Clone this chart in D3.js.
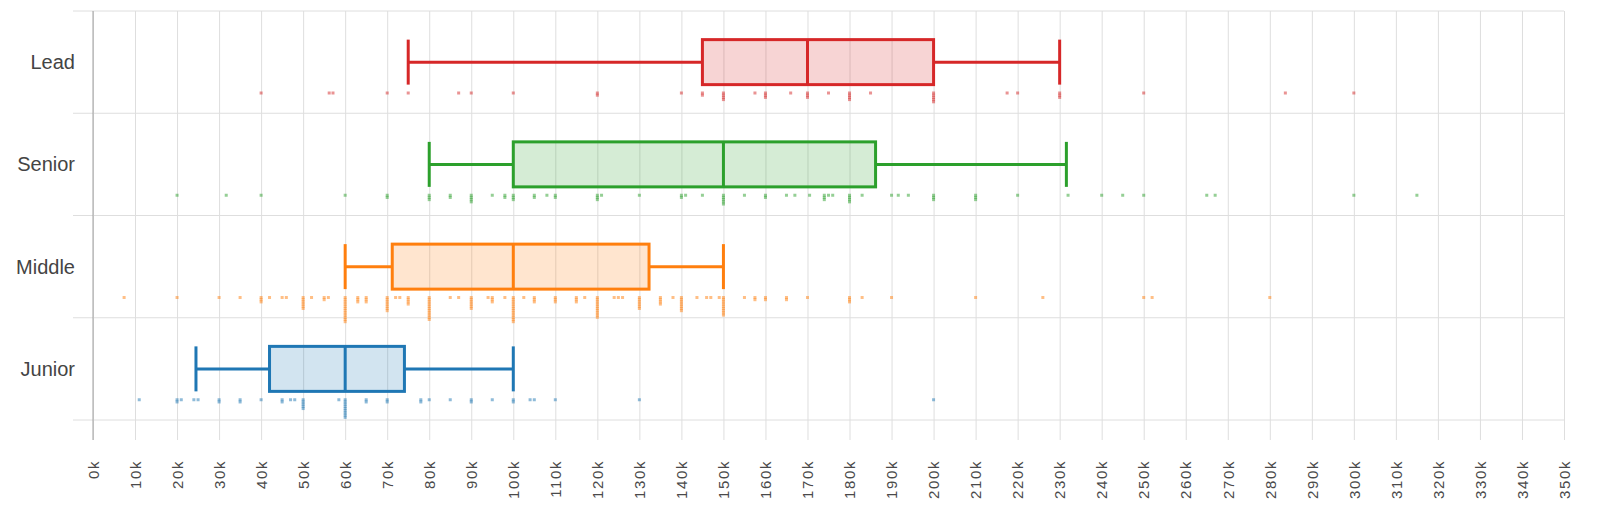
<!DOCTYPE html>
<html>
<head>
<meta charset="utf-8">
<script src="https://cdn.jsdelivr.net/npm/d3@7"></script>
<style>
  html, body { margin: 0; padding: 0; background: #fff; }
  svg { display: block; font-family: "Liberation Sans", Arial, Helvetica, sans-serif; }
</style>
</head>
<body>
<svg id="chart" width="1600" height="525"></svg>
<script>
// ---- data ----
const categories = ["Lead", "Senior", "Middle", "Junior"];
const colors = ["#d62728", "#2ca02c", "#ff7f0e", "#1f77b4"];
const whiskerLow  = [75, 80, 60, 24.5];
const q1          = [145, 100, 71.2, 42];
const median      = [170, 150, 100, 60];
const q3          = [200, 186.2, 132.3, 74.1];
const whiskerHigh = [230, 231.6, 150, 100];

// individual salaries (k) with how many responses share that value
const leadPoints = [[40,1],[56.2,1],[57.1,1],[70,1],[75,1],[87,1],[90,1],[100,1],[120,2],[140,1],[145,2],[150,4],[157.5,1],[160,3],[166,1],[170,3],[175,1],[180,4],[185,1],[200,5],[217.5,1],[220,1],[230,3],[250,1],[283.7,1],[300,1]];
const seniorPoints = [[20,1],[31.7,1],[40,1],[60,1],[70,2],[80,3],[85,2],[90,4],[95,1],[98,2],[100,3],[105,2],[108,1],[110,2],[120,3],[121,1],[130,1],[140,2],[141,1],[145,1],[150,5],[155,1],[160,2],[165,1],[167,1],[170.5,1],[174,3],[175,1],[176,1],[180,4],[183,1],[190,1],[191.6,1],[194,1],[200,3],[210,3],[220,1],[232,1],[240,1],[245,1],[250,1],[265,1],[267,1],[300,1],[315,1]];
const middlePoints = [[7.4,1],[20,1],[30,1],[35,1],[40,3],[42,1],[45,1],[46,1],[50,6],[52,1],[55,2],[56,1],[60,12],[63,3],[65,3],[70,7],[72,1],[73,1],[75,4],[80,11],[85,1],[87,1],[90,6],[94,1],[95,3],[98,1],[100,12],[102.5,1],[105,3],[110,3],[115,3],[117,1],[120,10],[124,1],[125,1],[126,1],[130,6],[135,4],[138,1],[140,7],[143.7,1],[146,1],[147,1],[149,1],[150,9],[155,1],[157.5,2],[160,2],[165,2],[170,1],[180,3],[183,1],[190,1],[210,1],[226,1],[250,1],[252,1],[280,1]];
const juniorPoints = [[11,1],[20,2],[21,1],[24,1],[25,1],[30,2],[35,2],[40,1],[45,2],[47,1],[48,1],[50,5],[58.5,1],[60,9],[65,2],[70,2],[78,2],[80,1],[85,1],[90,2],[95,1],[100,2],[104,1],[105,1],[110,1],[130,1],[200,1]];
const pointsByCategory = [leadPoints, seniorPoints, middlePoints, juniorPoints];

const tickValues = d3.range(0, 351, 10);
const tickLabels = tickValues.map(v => v + "k");

// ---- layout ----
const plotLeft = 93, plotRight = 1564, plotTop = 11, plotBottom = 420;
const ext = 20;

const svg = d3.select("#chart");
const x = d3.scaleLinear().domain([0, 350]).range([plotLeft, plotRight]);
const y = d3.scaleBand().domain(categories).range([plotTop, plotBottom]).padding(0);
const bw = y.bandwidth();

// vertical grid + x labels via axis
const xAxis = d3.axisBottom(x)
  .tickValues(tickValues)
  .tickFormat((d, i) => tickLabels[i])
  .tickSize(-(plotBottom + ext - plotTop))
  .tickPadding(0);
const gx = svg.append("g").attr("transform", `translate(0,${plotBottom + ext})`).call(xAxis);
gx.select(".domain").remove();
gx.selectAll(".tick line").attr("stroke", "#dedede").attr("stroke-width", 1);
gx.selectAll(".tick text")
  .attr("fill", "#4a4a4a")
  .attr("font-size", 15)
  .attr("letter-spacing", 1.6)
  .attr("text-anchor", "end")
  .attr("transform", "rotate(-90)")
  .attr("x", -20)
  .attr("y", 0)
  .attr("dy", "0.35em");

// horizontal band boundary lines
const boundaries = categories.map(c => y(c)).concat([y(categories[categories.length - 1]) + bw]);
svg.append("g").selectAll("line").data(boundaries).join("line")
  .attr("x1", plotLeft - ext).attr("x2", plotRight)
  .attr("y1", d => d).attr("y2", d => d)
  .attr("stroke", "#dedede").attr("stroke-width", 1);

// left axis line
svg.append("line")
  .attr("x1", plotLeft).attr("x2", plotLeft)
  .attr("y1", plotTop).attr("y2", plotBottom + ext)
  .attr("stroke", "#a0a0a0").attr("stroke-width", 1);

// category labels
svg.append("g").selectAll("text").data(categories).join("text")
  .attr("x", plotLeft - 18)
  .attr("y", d => y(d) + bw / 2)
  .attr("dy", "0.35em")
  .attr("text-anchor", "end")
  .attr("font-size", 20)
  .attr("fill", "#444")
  .text(d => d);

// boxes
const boxH = 45;
const g = svg.append("g").selectAll("g").data(categories).join("g")
  .attr("transform", d => `translate(0,${y(d) + bw / 2})`);

g.append("line")
  .attr("x1", (d, i) => x(whiskerLow[i])).attr("x2", (d, i) => x(q1[i]))
  .attr("y1", 0).attr("y2", 0)
  .attr("stroke", (d, i) => colors[i]).attr("stroke-width", 3);
g.append("line")
  .attr("x1", (d, i) => x(q3[i])).attr("x2", (d, i) => x(whiskerHigh[i]))
  .attr("y1", 0).attr("y2", 0)
  .attr("stroke", (d, i) => colors[i]).attr("stroke-width", 3);
g.append("line")
  .attr("x1", (d, i) => x(whiskerLow[i])).attr("x2", (d, i) => x(whiskerLow[i]))
  .attr("y1", -boxH / 2).attr("y2", boxH / 2)
  .attr("stroke", (d, i) => colors[i]).attr("stroke-width", 3);
g.append("line")
  .attr("x1", (d, i) => x(whiskerHigh[i])).attr("x2", (d, i) => x(whiskerHigh[i]))
  .attr("y1", -boxH / 2).attr("y2", boxH / 2)
  .attr("stroke", (d, i) => colors[i]).attr("stroke-width", 3);
g.append("rect")
  .attr("x", (d, i) => x(q1[i]))
  .attr("width", (d, i) => x(q3[i]) - x(q1[i]))
  .attr("y", -boxH / 2).attr("height", boxH)
  .attr("fill", (d, i) => colors[i]).attr("fill-opacity", 0.2)
  .attr("stroke", (d, i) => colors[i]).attr("stroke-width", 3);
g.append("line")
  .attr("x1", (d, i) => x(median[i])).attr("x2", (d, i) => x(median[i]))
  .attr("y1", -boxH / 2).attr("y2", boxH / 2)
  .attr("stroke", (d, i) => colors[i]).attr("stroke-width", 3);

// strip points (stacked duplicates)
const dot = 3, step = 2.2, rowOffset = 82;
categories.forEach((c, ci) => {
  const flat = [];
  pointsByCategory[ci].forEach(([v, n]) => { for (let k = 0; k < n; k++) flat.push({ v, k }); });
  svg.append("g").selectAll("rect").data(flat).join("rect")
    .attr("x", d => x(d.v) - dot / 2)
    .attr("y", d => y(c) + rowOffset - dot / 2 + d.k * step)
    .attr("width", dot).attr("height", dot)
    .attr("fill", colors[ci]).attr("fill-opacity", 0.5);
});
</script>
</body>
</html>
